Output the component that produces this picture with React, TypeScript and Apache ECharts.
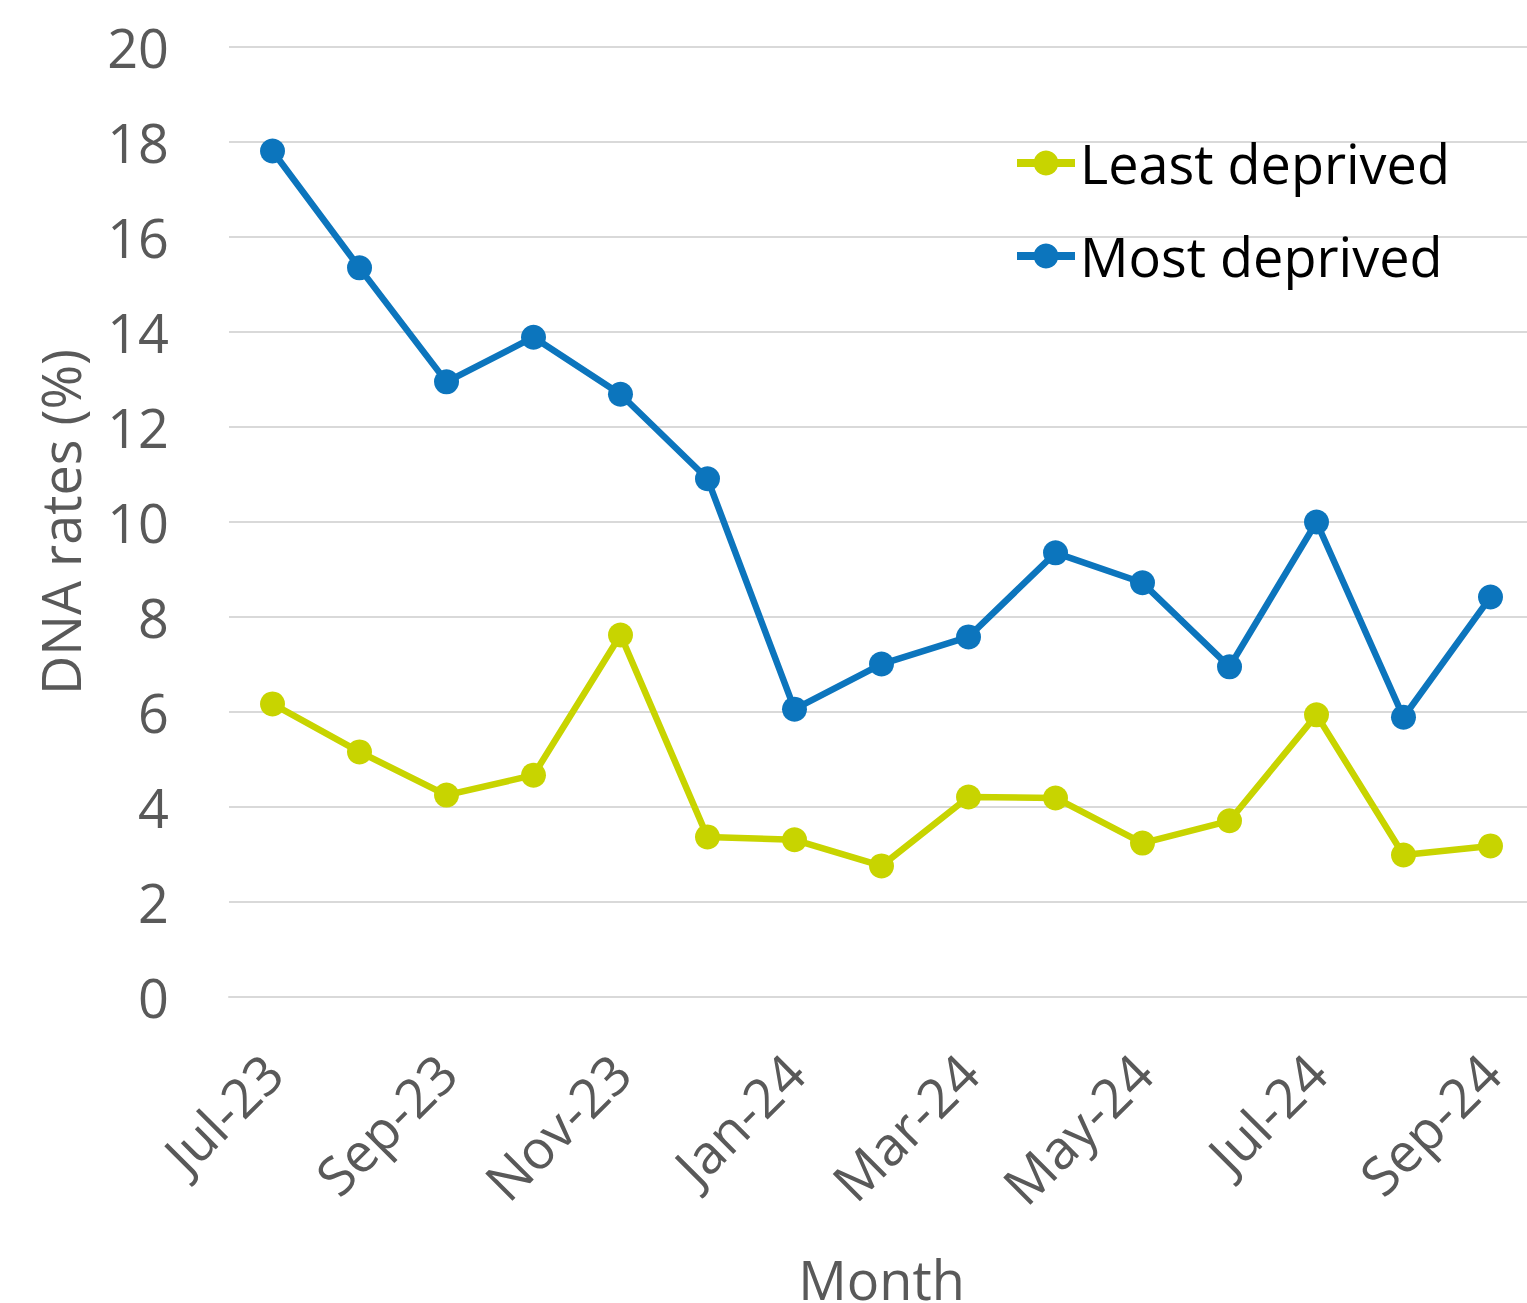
import React, { useEffect, useRef } from "react";
import * as echarts from "echarts";

// Monthly DNA (did not attend) rates by deprivation group
const months = [
  "Jul-23", "Aug-23", "Sep-23", "Oct-23", "Nov-23", "Dec-23", "Jan-24", "Feb-24",
  "Mar-24", "Apr-24", "May-24", "Jun-24", "Jul-24", "Aug-24", "Sep-24",
];
const leastDeprived = [6.17, 5.16, 4.25, 4.67, 7.62, 3.37, 3.31, 2.76, 4.21, 4.19, 3.24, 3.71, 5.94, 2.99, 3.18];
const mostDeprived = [17.81, 15.35, 12.95, 13.89, 12.69, 10.91, 6.06, 7.01, 7.58, 9.35, 8.72, 6.95, 10.0, 5.89, 8.42];

const GREEN = "#C8D400";
const BLUE = "#0C75BD";
const GREY_TEXT = "#595959";
const GRID_LINE = "#D9D9D9";
const FONT = "'Open Sans', 'Noto Sans', sans-serif";

export default function App() {
  const ref = useRef<HTMLDivElement>(null);

  useEffect(() => {
    if (!ref.current) return;
    const chart = echarts.init(ref.current, null, { renderer: "svg" });
    const lineSeries = (name: string, data: number[], color: string) => ({
      name,
      type: "line",
      data,
      symbol: "circle",
      symbolSize: 25,
      lineStyle: { color, width: 6.5 },
      itemStyle: { color },
      emphasis: { disabled: true },
    });
    chart.setOption({
      animation: false,
      textStyle: { fontFamily: FONT },
      grid: {
        left: 229,
        top: 47,
        width: 1305,
        height: 950,
        containLabel: false,
        outerBoundsMode: "none",
      },
      legend: {
        orient: "vertical",
        left: 1013,
        top: 136,
        padding: 0,
        itemWidth: 58,
        itemHeight: 31,
        itemGap: 39,
        lineStyle: { width: 8 },
        data: ["Least deprived", "Most deprived"],
        textStyle: { color: "#000000", fontSize: 54, fontFamily: FONT },
      },
      xAxis: {
        type: "category",
        data: months,
        boundaryGap: true,
        name: "Month",
        nameLocation: "middle",
        nameGap: 255,
        nameMoveOverlap: false,
        nameTextStyle: { color: GREY_TEXT, fontSize: 54, fontFamily: FONT },
        axisLine: { lineStyle: { color: GRID_LINE, width: 2 } },
        axisTick: { interval: 1, length: 20, lineStyle: { color: GRID_LINE, width: 2 } },
        axisLabel: {
          interval: 1,
          rotate: 45,
          margin: 66,
          color: GREY_TEXT,
          fontSize: 54,
          fontFamily: FONT,
        },
      },
      yAxis: {
        type: "value",
        min: 0,
        max: 20,
        interval: 2,
        name: "DNA rates (%)",
        nameLocation: "middle",
        nameGap: 142,
        nameMoveOverlap: false,
        nameTextStyle: { color: GREY_TEXT, fontSize: 54, fontFamily: FONT },
        axisLine: { show: false },
        axisTick: { show: false },
        axisLabel: { color: GREY_TEXT, fontSize: 54, fontFamily: FONT, margin: 60 },
        splitLine: { lineStyle: { color: GRID_LINE, width: 2 } },
      },
      series: [
        lineSeries("Least deprived", leastDeprived, GREEN),
        lineSeries("Most deprived", mostDeprived, BLUE),
      ],
    });
    return () => chart.dispose();
  }, []);

  return (
    <div
      ref={ref}
      style={{ position: "absolute", left: 0, top: 0, width: 1527, height: 1303, background: "#ffffff" }}
    />
  );
}
